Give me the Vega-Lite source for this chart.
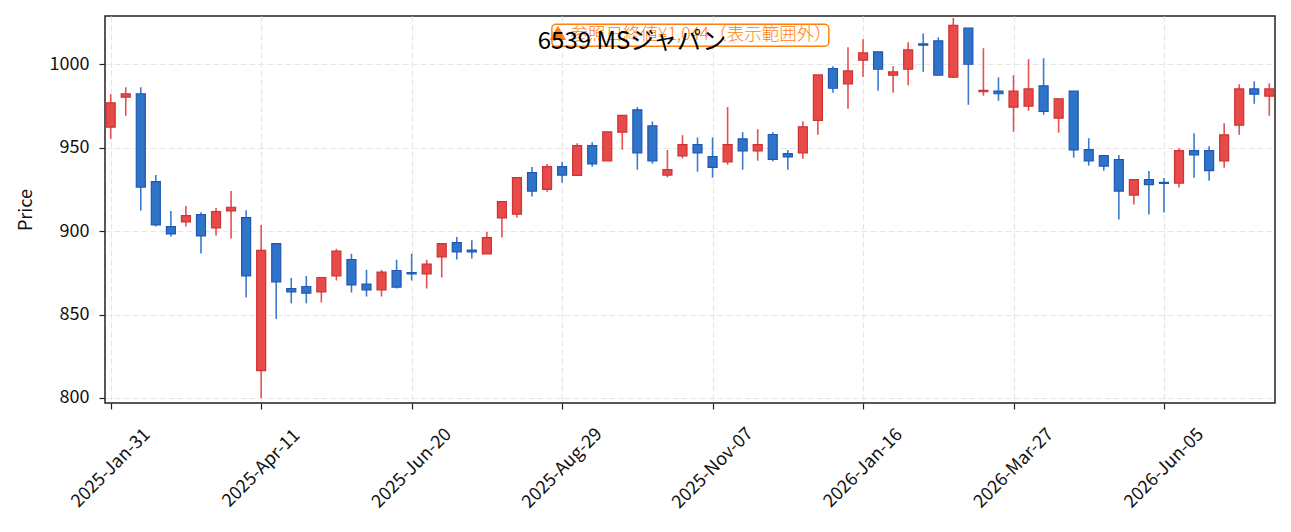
{
  "$schema": "https://vega.github.io/schema/vega-lite/v6.json",
  "width": 1170,
  "height": 387,
  "autosize": {"type": "none"},
  "padding": {"left": 105, "top": 16, "right": 16, "bottom": 129},
  "background": "white",
  "title": {
    "text": "6539 MSジャパン",
    "font": "Noto Sans CJK JP",
    "fontSize": 24,
    "fontWeight": "normal",
    "color": "#000000",
    "anchor": "middle",
    "baseline": "middle",
    "offset": 0,
    "dx": -58,
    "dy": 50
  },
  "config": {
    "font": "Noto Sans CJK JP",
    "view": {"stroke": "#222222", "strokeWidth": 1.5},
    "axis": {
      "labelFont": "Noto Sans CJK JP",
      "titleFont": "Noto Sans CJK JP",
      "labelFontSize": 18,
      "labelColor": "#111111",
      "titleColor": "#111111",
      "titleFontSize": 18,
      "titleFontWeight": "normal",
      "tickColor": "#222222",
      "tickWidth": 1.2,
      "tickSize": 6,
      "domain": false,
      "grid": true,
      "gridColor": "#e6e6e6",
      "gridDash": [6, 3],
      "gridWidth": 1.2
    }
  },
  "data": {
    "values": [
      {"d": "2025-01-31", "o": 962.3, "h": 982.1, "l": 955.3, "c": 976.9},
      {"d": "2025-02-07", "o": 980.3, "h": 986.2, "l": 969.1, "c": 982.3},
      {"d": "2025-02-14", "o": 982.3, "h": 986.2, "l": 912.3, "c": 926.4},
      {"d": "2025-02-21", "o": 929.6, "h": 933.6, "l": 902.7, "c": 903.7},
      {"d": "2025-02-28", "o": 902.7, "h": 912.1, "l": 896.7, "c": 898.3},
      {"d": "2025-03-07", "o": 905.5, "h": 915.1, "l": 902.7, "c": 909.3},
      {"d": "2025-03-14", "o": 909.9, "h": 911.3, "l": 886.6, "c": 897.1},
      {"d": "2025-03-21", "o": 901.9, "h": 913.9, "l": 897.3, "c": 911.7},
      {"d": "2025-03-28", "o": 912.1, "h": 924.0, "l": 895.5, "c": 914.3},
      {"d": "2025-04-04", "o": 908.1, "h": 912.5, "l": 860.2, "c": 873.2},
      {"d": "2025-04-11", "o": 816.4, "h": 903.7, "l": 800.0, "c": 888.4},
      {"d": "2025-04-18", "o": 892.5, "h": 892.5, "l": 847.3, "c": 869.6},
      {"d": "2025-04-25", "o": 865.6, "h": 872.0, "l": 856.7, "c": 863.6},
      {"d": "2025-05-02", "o": 866.8, "h": 873.2, "l": 856.7, "c": 862.8},
      {"d": "2025-05-09", "o": 863.6, "h": 872.2, "l": 857.3, "c": 872.2},
      {"d": "2025-05-16", "o": 873.2, "h": 889.4, "l": 870.4, "c": 888.0},
      {"d": "2025-05-23", "o": 883.0, "h": 886.4, "l": 863.2, "c": 867.8},
      {"d": "2025-05-30", "o": 868.2, "h": 876.8, "l": 860.8, "c": 864.8},
      {"d": "2025-06-06", "o": 864.8, "h": 876.8, "l": 860.8, "c": 875.4},
      {"d": "2025-06-13", "o": 876.4, "h": 882.8, "l": 865.6, "c": 866.4},
      {"d": "2025-06-20", "o": 875.2, "h": 886.4, "l": 870.4, "c": 874.4},
      {"d": "2025-06-27", "o": 874.4, "h": 882.8, "l": 865.6, "c": 880.2},
      {"d": "2025-07-04", "o": 884.6, "h": 892.5, "l": 872.2, "c": 892.5},
      {"d": "2025-07-11", "o": 893.1, "h": 896.5, "l": 883.0, "c": 887.6},
      {"d": "2025-07-18", "o": 888.6, "h": 894.5, "l": 883.6, "c": 887.6},
      {"d": "2025-07-25", "o": 886.4, "h": 899.5, "l": 886.4, "c": 896.1},
      {"d": "2025-08-01", "o": 907.9, "h": 917.7, "l": 896.1, "c": 917.7},
      {"d": "2025-08-08", "o": 910.1, "h": 932.0, "l": 908.1, "c": 932.0},
      {"d": "2025-08-15", "o": 935.0, "h": 938.4, "l": 920.7, "c": 924.0},
      {"d": "2025-08-22", "o": 925.0, "h": 940.2, "l": 923.6, "c": 938.6},
      {"d": "2025-08-29", "o": 938.6, "h": 941.4, "l": 929.0, "c": 933.6},
      {"d": "2025-09-05", "o": 933.4, "h": 952.6, "l": 933.4, "c": 951.2},
      {"d": "2025-09-12", "o": 951.2, "h": 953.3, "l": 938.6, "c": 940.2},
      {"d": "2025-09-19", "o": 942.0, "h": 959.5, "l": 942.0, "c": 959.5},
      {"d": "2025-09-26", "o": 959.3, "h": 969.3, "l": 948.8, "c": 969.3},
      {"d": "2025-10-03", "o": 972.7, "h": 974.3, "l": 936.8, "c": 946.8},
      {"d": "2025-10-10", "o": 963.1, "h": 965.7, "l": 940.4, "c": 942.0},
      {"d": "2025-10-17", "o": 933.6, "h": 948.6, "l": 932.2, "c": 936.8},
      {"d": "2025-10-24", "o": 945.0, "h": 957.5, "l": 943.6, "c": 951.8},
      {"d": "2025-10-31", "o": 951.8, "h": 956.1, "l": 935.6, "c": 946.8},
      {"d": "2025-11-07", "o": 944.6, "h": 956.1, "l": 932.0, "c": 938.2},
      {"d": "2025-11-14", "o": 941.4, "h": 974.3, "l": 939.8, "c": 951.8},
      {"d": "2025-11-21", "o": 955.3, "h": 959.3, "l": 936.8, "c": 948.0},
      {"d": "2025-11-28", "o": 948.0, "h": 961.1, "l": 942.2, "c": 951.8},
      {"d": "2025-12-05", "o": 957.9, "h": 959.3, "l": 941.8, "c": 943.0},
      {"d": "2025-12-12", "o": 946.4, "h": 948.6, "l": 936.8, "c": 944.4},
      {"d": "2025-12-19", "o": 946.8, "h": 965.9, "l": 943.4, "c": 962.5},
      {"d": "2025-12-26", "o": 966.3, "h": 993.6, "l": 957.7, "c": 993.6},
      {"d": "2026-01-02", "o": 997.4, "h": 998.8, "l": 982.9, "c": 985.6},
      {"d": "2026-01-09", "o": 988.2, "h": 1010.2, "l": 973.3, "c": 996.0},
      {"d": "2026-01-16", "o": 1002.4, "h": 1015.0, "l": 992.4, "c": 1006.8},
      {"d": "2026-01-23", "o": 1007.4, "h": 1007.4, "l": 984.1, "c": 997.0},
      {"d": "2026-01-30", "o": 993.4, "h": 998.8, "l": 982.9, "c": 995.4},
      {"d": "2026-02-06", "o": 997.0, "h": 1013.2, "l": 987.4, "c": 1008.6},
      {"d": "2026-02-13", "o": 1012.2, "h": 1018.5, "l": 995.4, "c": 1011.4},
      {"d": "2026-02-20", "o": 1014.0, "h": 1016.1, "l": 993.4, "c": 993.4},
      {"d": "2026-02-27", "o": 992.2, "h": 1027.7, "l": 991.8, "c": 1023.3},
      {"d": "2026-03-06", "o": 1021.7, "h": 1021.7, "l": 975.7, "c": 1000.0},
      {"d": "2026-03-13", "o": 983.5, "h": 1009.6, "l": 981.1, "c": 984.3},
      {"d": "2026-03-20", "o": 983.9, "h": 992.2, "l": 978.1, "c": 982.3},
      {"d": "2026-03-27", "o": 974.3, "h": 993.4, "l": 959.5, "c": 983.9},
      {"d": "2026-04-03", "o": 974.9, "h": 1003.0, "l": 972.1, "c": 985.2},
      {"d": "2026-04-10", "o": 987.0, "h": 1003.6, "l": 969.7, "c": 971.7},
      {"d": "2026-04-17", "o": 967.7, "h": 979.3, "l": 958.9, "c": 979.3},
      {"d": "2026-04-24", "o": 983.9, "h": 983.9, "l": 944.0, "c": 948.6},
      {"d": "2026-05-01", "o": 948.8, "h": 955.7, "l": 939.2, "c": 942.0},
      {"d": "2026-05-08", "o": 945.2, "h": 945.2, "l": 936.2, "c": 939.0},
      {"d": "2026-05-15", "o": 942.8, "h": 945.6, "l": 906.9, "c": 924.0},
      {"d": "2026-05-22", "o": 921.6, "h": 930.8, "l": 915.9, "c": 930.8},
      {"d": "2026-05-29", "o": 930.8, "h": 936.0, "l": 909.9, "c": 927.8},
      {"d": "2026-06-05", "o": 929.2, "h": 931.8, "l": 911.1, "c": 928.6},
      {"d": "2026-06-12", "o": 928.8, "h": 949.6, "l": 926.2, "c": 948.2},
      {"d": "2026-06-19", "o": 948.2, "h": 958.7, "l": 932.0, "c": 945.6},
      {"d": "2026-06-26", "o": 948.2, "h": 950.8, "l": 930.2, "c": 936.2},
      {"d": "2026-07-03", "o": 942.0, "h": 964.7, "l": 938.0, "c": 957.7},
      {"d": "2026-07-10", "o": 963.5, "h": 988.0, "l": 957.7, "c": 985.2},
      {"d": "2026-07-17", "o": 985.2, "h": 989.8, "l": 976.3, "c": 982.1},
      {"d": "2026-07-24", "o": 980.9, "h": 988.6, "l": 969.1, "c": 985.2}
    ]
  },
  "layer": [
    {
      "mark": {"type": "rule", "strokeWidth": 1.6},
      "encoding": {
        "x": {
          "field": "d",
          "type": "temporal",
          "scale": {
            "type": "utc",
            "padding": 0,
            "domain": [
              {"year": 2025, "month": 1, "date": 28, "hours": 8, "minutes": 24, "utc": true},
              {"year": 2026, "month": 7, "date": 26, "hours": 15, "minutes": 36, "utc": true}
            ]
          },
          "axis": {
            "title": null,
            "values": [
              {"year": 2025, "month": 1, "date": 31, "utc": true},
              {"year": 2025, "month": 4, "date": 11, "utc": true},
              {"year": 2025, "month": 6, "date": 20, "utc": true},
              {"year": 2025, "month": 8, "date": 29, "utc": true},
              {"year": 2025, "month": 11, "date": 7, "utc": true},
              {"year": 2026, "month": 1, "date": 16, "utc": true},
              {"year": 2026, "month": 3, "date": 27, "utc": true},
              {"year": 2026, "month": 6, "date": 5, "utc": true}
            ],
            "format": "%Y-%b-%d",
            "labelAngle": -45,
            "labelAlign": "center",
            "labelBaseline": "middle",
            "labelPadding": 59,
            "labelOverlap": false,
            "labelFlush": false,
            "labelBound": false
          }
        },
        "y": {
          "field": "l",
          "type": "quantitative",
          "scale": {"domain": [797, 1028.9], "nice": false, "zero": false},
          "axis": {
            "title": "Price",
            "values": [800, 850, 900, 950, 1000],
            "format": "d",
            "labelPadding": 10,
            "titlePadding": 14
          }
        },
        "y2": {"field": "h"},
        "stroke": {
          "condition": {"test": "datum.c >= datum.o", "value": "#e65050"},
          "value": "#3a7bd0"
        }
      }
    },
    {
      "mark": {"type": "bar", "size": 9, "strokeWidth": 1.2},
      "encoding": {
        "x": {"field": "d", "type": "temporal"},
        "y": {"field": "o", "type": "quantitative"},
        "y2": {"field": "c"},
        "fill": {
          "condition": {"test": "datum.c >= datum.o", "value": "#e84a4a"},
          "value": "#2f74c8"
        },
        "stroke": {
          "condition": {"test": "datum.c >= datum.o", "value": "#cc3333"},
          "value": "#1f58b0"
        }
      }
    },
    {
      "data": {"values": [{"label": "▲ 参照日終値¥1,044（表示範囲外）"}]},
      "mark": {"type": "rect", "fill": "white", "stroke": "#ff7f0e", "strokeWidth": 1.5, "cornerRadius": 4},
      "encoding": {
        "x": {"datum": {"year": 2025, "month": 8, "date": 24, "hours": 6, "utc": true}, "type": "temporal"},
        "x2": {"datum": {"year": 2025, "month": 12, "date": 31, "hours": 2, "utc": true}},
        "y": {"datum": 1023.9, "type": "quantitative"},
        "y2": {"datum": 1010.8}
      }
    },
    {
      "data": {"values": [{"label": "▲ 参照日終値¥1,044（表示範囲外）"}]},
      "mark": {"type": "text", "font": "Noto Sans CJK JP", "fontSize": 17.5, "fontWeight": 300, "color": "#ff7f0e", "align": "center", "baseline": "middle"},
      "encoding": {
        "x": {"datum": {"year": 2025, "month": 10, "date": 27, "hours": 17, "utc": true}, "type": "temporal"},
        "y": {"datum": 1017.3, "type": "quantitative"},
        "text": {"field": "label"}
      }
    }
  ]
}
